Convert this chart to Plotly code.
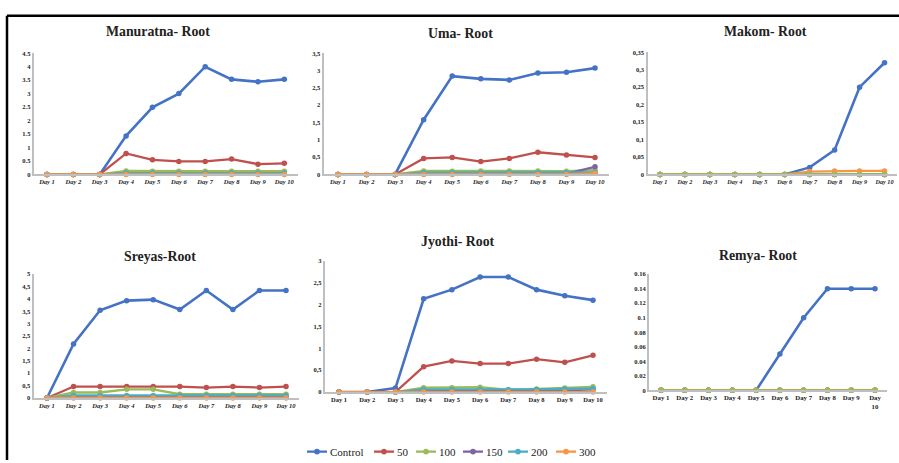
import plotly.graph_objects as go

W, H = 899, 463

days = ["Day 1", "Day 2", "Day 3", "Day 4", "Day 5", "Day 6", "Day 7", "Day 8", "Day 9", "Day 10"]
remya_day_labels = ["Day 1", "Day 2", "Day 3", "Day 4", "Day 5", "Day 6", "Day 7", "Day 8", "Day 9", "Day<br>10"]
series_names = ["Control", "50", "100", "150", "200", "300"]
series_colors = ["#4472C4", "#C0504D", "#9BBB59", "#8064A2", "#4BACC6", "#F79646"]

# Manuratna
manuratna_control = [0, 0, 0, 1.43, 2.49, 3.0, 4.0, 3.53, 3.44, 3.53]
manuratna_50 = [0, 0, 0, 0.78, 0.54, 0.48, 0.48, 0.57, 0.38, 0.41]
manuratna_100 = [0, 0, 0, 0.13, 0.12, 0.12, 0.12, 0.12, 0.12, 0.12]
manuratna_150 = [0, 0, 0, 0.03, 0.03, 0.03, 0.03, 0.03, 0.03, 0.03]
manuratna_200 = [0, 0, 0, 0.05, 0.05, 0.05, 0.05, 0.05, 0.05, 0.05]
manuratna_300 = [0, 0, 0, 0, 0, 0, 0, 0, 0, 0]
manuratna_ticks = ["0", "0.5", "1", "1.5", "2", "2.5", "3", "3.5", "4", "4.5"]

# Uma
uma_control = [0, 0, 0, 1.58, 2.84, 2.76, 2.73, 2.93, 2.95, 3.07]
uma_50 = [0, 0, 0, 0.46, 0.49, 0.37, 0.46, 0.64, 0.56, 0.49]
uma_100 = [0, 0, 0, 0.1, 0.09, 0.1, 0.1, 0.1, 0.09, 0.12]
uma_150 = [0, 0, 0, 0.02, 0.02, 0.02, 0.02, 0.02, 0.02, 0.22]
uma_200 = [0, 0, 0, 0.05, 0.05, 0.05, 0.05, 0.05, 0.05, 0.06]
uma_300 = [0, 0, 0, 0, 0, 0, 0, 0, 0, 0.03]
uma_ticks = ["0", "0,5", "1", "1,5", "2", "2,5", "3", "3,5"]

# Makom
makom_control = [0, 0, 0, 0, 0, 0, 0.02, 0.07, 0.25, 0.32]
makom_50 = [0, 0, 0, 0, 0, 0, 0, 0, 0, 0]
makom_100 = [0, 0, 0, 0, 0, 0, 0, 0, 0, 0]
makom_150 = [0, 0, 0, 0, 0, 0, 0, 0, 0, 0]
makom_200 = [0, 0, 0, 0, 0, 0, 0, 0, 0, 0]
makom_300 = [0, 0, 0, 0, 0, 0, 0.008, 0.01, 0.01, 0.01]
makom_ticks = ["0", "0,05", "0,1", "0,15", "0,2", "0,25", "0,3", "0,35"]

# Sreyas
sreyas_control = [0, 2.18, 3.54, 3.93, 3.97, 3.57, 4.34, 3.57, 4.34, 4.34]
sreyas_50 = [0, 0.46, 0.46, 0.46, 0.46, 0.46, 0.42, 0.46, 0.42, 0.46]
sreyas_100 = [0, 0.22, 0.22, 0.35, 0.35, 0.15, 0.15, 0.15, 0.15, 0.15]
sreyas_150 = [0, 0.07, 0.03, 0.03, 0.03, 0.03, 0.03, 0.03, 0.03, 0.03]
sreyas_200 = [0, 0.1, 0.1, 0.1, 0.1, 0.1, 0.1, 0.1, 0.1, 0.1]
sreyas_300 = [0, 0, 0, 0, 0, 0, 0, 0, 0, 0]
sreyas_ticks = ["0", "0,5", "1", "1,5", "2", "2,5", "3", "3,5", "4", "4,5", "5"]

# Jyothi
jyothi_control = [0, 0, 0.09, 2.13, 2.34, 2.63, 2.63, 2.34, 2.2, 2.1]
jyothi_50 = [0, 0, 0, 0.58, 0.71, 0.65, 0.65, 0.75, 0.68, 0.84]
jyothi_100 = [0, 0, 0, 0.1, 0.1, 0.11, 0.05, 0.07, 0.09, 0.12]
jyothi_150 = [0, 0, 0, 0.03, 0.03, 0.03, 0.03, 0.03, 0.04, 0.06]
jyothi_200 = [0, 0, 0, 0.06, 0.06, 0.06, 0.05, 0.06, 0.07, 0.08]
jyothi_300 = [0, 0, 0, 0, 0, 0, 0, 0, 0, 0]
jyothi_ticks = ["0", "0,5", "1", "1,5", "2", "2,5", "3"]

# Remya
remya_control = [0, 0, 0, 0, 0, 0.05, 0.1, 0.14, 0.14, 0.14]
remya_50 = [0, 0, 0, 0, 0, 0, 0, 0, 0, 0]
remya_100 = [0, 0, 0, 0, 0, 0, 0, 0, 0, 0]
remya_150 = [0, 0, 0, 0, 0, 0, 0, 0, 0, 0]
remya_200 = [0, 0, 0, 0, 0, 0, 0, 0, 0, 0]
remya_300 = [0, 0, 0, 0, 0, 0, 0, 0, 0, 0]
remya_ticks = ["0", "0.02", "0.04", "0.06", "0.08", "0.1", "0.12", "0.14", "0.16"]

panel_titles = ["Manuratna- Root", "Uma- Root", "Makom- Root", "Sreyas-Root", "Jyothi- Root", "Remya- Root"]

panels = [
    dict(title=panel_titles[0], data=[manuratna_control, manuratna_50, manuratna_100, manuratna_150, manuratna_200, manuratna_300],
         ticks=manuratna_ticks, step=0.5, px=(33.8, 297.5), py=(173, 50), order=[0, 1, 2, 3, 4, 5], tx=158, ty=28,
         italic=True, xlabels=days, xfs=6.5),
    dict(title=panel_titles[1], data=[uma_control, uma_50, uma_100, uma_150, uma_200, uma_300],
         ticks=uma_ticks, step=0.5, px=(323.7, 609.3), py=(173, 50), order=[0, 1, 2, 3, 4, 5], tx=460, ty=30,
         italic=True, xlabels=days, xfs=6.5),
    dict(title=panel_titles[2], data=[makom_control, makom_50, makom_100, makom_150, makom_200, makom_300],
         ticks=makom_ticks, step=0.05, px=(647.5, 897), py=(173, 49), order=[0, 1, 3, 4, 5, 2], tx=765, ty=28,
         italic=True, xlabels=days, xfs=6.2),
    dict(title=panel_titles[3], data=[sreyas_control, sreyas_50, sreyas_100, sreyas_150, sreyas_200, sreyas_300],
         ticks=sreyas_ticks, step=0.5, px=(33.7, 299.3), py=(400, 274.3), order=[0, 1, 2, 3, 4, 5], tx=160, ty=256,
         italic=True, xlabels=days, xfs=6.5),
    dict(title=panel_titles[4], data=[jyothi_control, jyothi_50, jyothi_100, jyothi_150, jyothi_200, jyothi_300],
         ticks=jyothi_ticks, step=0.5, px=(324.9, 607.1), py=(394, 260.7), order=[0, 1, 2, 3, 4, 5], tx=458, ty=241,
         italic=False, xlabels=days, xfs=6.5),
    dict(title=panel_titles[5], data=[remya_control, remya_50, remya_100, remya_150, remya_200, remya_300],
         ticks=remya_ticks, step=0.02, px=(649.1, 886.9), py=(392.3, 274.3), order=[0, 1, 3, 4, 5, 2], tx=758, ty=255,
         italic=False, xlabels=remya_day_labels, xfs=6.8),
]

# legend entry: left x of the key line (pixels); line length and text follow
legend_line_x = [307, 374, 416, 463, 508, 556]
LEGEND_Y = 454.5
LINE_LEN = 20

FONT = "Liberation Serif"
fig = go.Figure()
annotations = []
layout_axes = {}
shapes = []

for i, p in enumerate(panels):
    n = i + 1
    xa = "x" if n == 1 else f"x{n}"
    ya = "y" if n == 1 else f"y{n}"
    for si in p["order"]:
        fig.add_trace(go.Scatter(
            x=days, y=p["data"][si], mode="lines+markers",
            name=series_names[si],
            line=dict(color=series_colors[si], width=2.6 if si == 0 else 2.3),
            marker=dict(color=series_colors[si], size=5.5, symbol="circle"),
            xaxis=xa, yaxis=ya, cliponaxis=False, showlegend=False,
        ))
    ntick = len(p["ticks"])
    tickvals = [round(k * p["step"], 4) for k in range(ntick)]
    ymax = tickvals[-1]
    x0, x1 = p["px"]
    y0, y1 = p["py"]
    layout_axes["xaxis" if n == 1 else f"xaxis{n}"] = dict(
        domain=[x0 / W, x1 / W], anchor=ya, type="category", range=[-0.5, 9.5],
        tickvals=days, ticktext=p["xlabels"],
        showgrid=False, zeroline=False, showline=True, linecolor="#BFBFBF", linewidth=1.5,
        ticks="", tickfont=dict(family=FONT, size=p["xfs"], color="#222",
                                style="italic" if p["italic"] else "normal", weight="bold"),
        fixedrange=True,
    )
    layout_axes["yaxis" if n == 1 else f"yaxis{n}"] = dict(
        domain=[1 - y0 / H, 1 - y1 / H], anchor=xa, range=[0, ymax],
        tickvals=tickvals, ticktext=p["ticks"],
        showgrid=False, zeroline=False, showline=True, linecolor="#BFBFBF", linewidth=2.2,
        ticks="", tickfont=dict(family=FONT, size=6.5, color="#222", weight="bold"),
        fixedrange=True,
    )
    annotations.append(dict(
        text=f"<b>{p['title']}</b>", x=p["tx"] / W, y=1 - p["ty"] / H, xref="paper", yref="paper",
        xanchor="center", yanchor="middle", showarrow=False,
        font=dict(family=FONT, size=13.8, color="#222"),
    ))

# shared legend (key line + marker + label)
ly = 1 - LEGEND_Y / H
r = 2.8
for si, lx in enumerate(legend_line_x):
    c = series_colors[si]
    shapes.append(dict(type="line", xref="paper", yref="paper", x0=lx / W, x1=(lx + LINE_LEN) / W,
                       y0=ly, y1=ly, line=dict(color=c, width=2.3)))
    cx = lx + LINE_LEN / 2
    shapes.append(dict(type="circle", xref="paper", yref="paper",
                       x0=(cx - r) / W, x1=(cx + r) / W, y0=ly - r / H, y1=ly + r / H,
                       fillcolor=c, line=dict(color=c, width=0)))
    annotations.append(dict(
        text=series_names[si], x=(lx + LINE_LEN + 0.5) / W, y=ly, xref="paper", yref="paper",
        xanchor="left", yanchor="middle", showarrow=False, xshift=0,
        font=dict(family=FONT, size=11, color="#222"),
    ))

shapes += [
    dict(type="line", xref="paper", yref="paper", x0=7 / W, x1=1, y0=1 - 12 / H, y1=1 - 12 / H,
         line=dict(color="black", width=2.5)),
    dict(type="line", xref="paper", yref="paper", x0=7 / W, x1=7 / W, y0=0, y1=1 - 12 / H,
         line=dict(color="black", width=2.5)),
]

fig.update_layout(
    width=W, height=H, margin=dict(l=0, r=0, t=0, b=0),
    paper_bgcolor="white", plot_bgcolor="white",
    font=dict(family=FONT, color="#222"),
    annotations=annotations, shapes=shapes,
    showlegend=False,
    **layout_axes,
)

fig.write_html("out.html", config={"displayModeBar": False},
               post_script="document.body.style.margin='0';document.body.style.overflow='hidden';")
